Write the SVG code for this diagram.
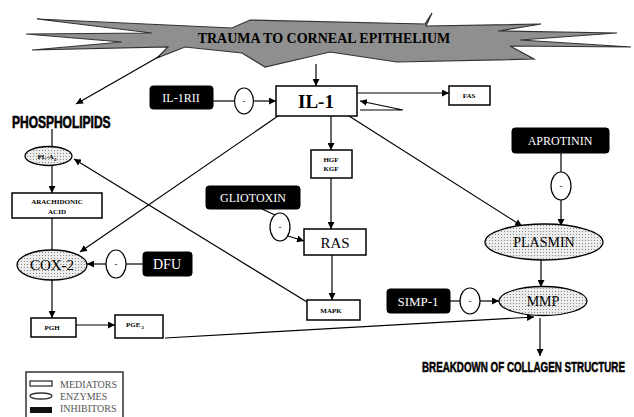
<svg xmlns="http://www.w3.org/2000/svg" width="634" height="417" viewBox="0 0 634 417">
<defs>
<pattern id="dots" width="3" height="3" patternUnits="userSpaceOnUse">
<rect width="3" height="3" fill="#ececec"/>
<rect x="0" y="0" width="1" height="1" fill="#8a8a8a"/>
</pattern>
<marker id="ah" viewBox="0 0 10 10" refX="10" refY="5" markerWidth="7" markerHeight="7" markerUnits="userSpaceOnUse" orient="auto">
<path d="M0,0 L10,5 L0,10 z" fill="#000"/>
</marker>
</defs>
<style>
.med{fill:#fff;stroke:#000;stroke-width:1.5}
.enz{fill:url(#dots);stroke:#000;stroke-width:1.3}
.inh{fill:#000;stroke:#000}
.neg{fill:#fff;stroke:#000;stroke-width:1.2}
.c{fill:none;stroke:#000;stroke-width:1.2}
.ca{fill:none;stroke:#000;stroke-width:1.2;marker-end:url(#ah)}
.t{fill:#000;text-anchor:middle}
.w{fill:#fff;text-anchor:middle}
.s{fill:#000;text-anchor:middle;font-weight:bold;font-size:7px}
.h{font-weight:bold;fill:#000}
.lg{fill:#555;font-size:10px}
</style>
<rect width="634" height="417" fill="#fff"/>

<g id="trauma" font-family="'Liberation Serif', serif">
<polygon points="37,19 232,28 250,20 425,24 432,13 426,26 541,24 498,31 617,33 520,40 631,47 510,46 534,59 397,62 330,52 265,67 242,53 185,47 157,58 168,47 32,50 122,42 26,34 152,33" fill="#8f8f8f" stroke="#333" stroke-width="1.2" stroke-linejoin="miter"/>
<text x="324" y="43" class="t" font-size="14" font-weight="bold" fill="#222">TRAUMA TO CORNEAL EPITHELIUM</text>
</g>

<g id="connectors">
<line x1="316" y1="64" x2="316" y2="86" class="ca"/>
<line x1="160" y1="56" x2="76" y2="104" class="ca"/>
<line x1="213" y1="101" x2="234" y2="101" class="c"/>
<line x1="254" y1="101" x2="276" y2="101" class="ca"/>
<line x1="357" y1="93" x2="449" y2="93" class="ca"/>
<polyline points="360,110 403,110 360,101" class="ca"/>
<line x1="331" y1="116" x2="331" y2="150" class="ca"/>
<line x1="331" y1="178" x2="331" y2="229" class="ca"/>
<line x1="332" y1="255" x2="332" y2="300" class="ca"/>
<line x1="278" y1="116" x2="80" y2="252" class="ca"/>
<line x1="349" y1="116" x2="522" y2="226" class="ca"/>
<line x1="307" y1="302" x2="74" y2="159" class="ca"/>
<line x1="52" y1="129" x2="52" y2="147" class="c"/>
<line x1="52" y1="165" x2="52" y2="193" class="ca"/>
<line x1="52" y1="218" x2="52" y2="252" class="c"/>
<line x1="52" y1="280" x2="52" y2="318" class="ca"/>
<line x1="76" y1="325" x2="115" y2="325" class="ca"/>
<line x1="143" y1="264" x2="126" y2="264" class="c"/>
<line x1="106" y1="264" x2="87" y2="264" class="ca"/>
<line x1="262" y1="209" x2="275" y2="215" class="c"/>
<line x1="288" y1="236" x2="304" y2="241" class="ca"/>
<line x1="561" y1="153" x2="561" y2="172" class="c"/>
<line x1="561" y1="200" x2="561" y2="226" class="ca"/>
<line x1="541" y1="260" x2="541" y2="287" class="ca"/>
<line x1="450" y1="301" x2="460" y2="301" class="c"/>
<line x1="480" y1="301" x2="499" y2="301" class="ca"/>
<line x1="165" y1="338" x2="534" y2="317" class="ca"/>
<line x1="540" y1="318" x2="540" y2="356" class="ca"/>
</g>

<g id="nodes" font-family="'Liberation Serif', serif">
<g id="il1">
<rect x="276" y="86" width="81" height="30" class="med"/>
<text x="316" y="108" class="t" font-size="19" font-weight="bold">IL-1</text>
</g>

<g id="il1rii">
<rect x="150" y="86" width="63" height="23" rx="3" class="inh"/>
<text x="181" y="102" class="w" font-size="12">IL-1RII</text>
</g>
<g id="neg-il1rii">
<ellipse cx="244" cy="101" rx="9.5" ry="13" class="neg"/>
<text x="244" y="104" class="t" font-size="9">-</text>
</g>

<g id="fas">
<rect x="449" y="86" width="41" height="19" class="med"/>
<text x="469" y="98" class="s">FAS</text>
</g>

<g id="phospholipids">
<text transform="translate(12,128) scale(0.75,1)" x="0" y="0" class="h" font-family="'Liberation Sans', sans-serif" font-size="16" stroke="#000" stroke-width="0.6">PHOSPHOLIPIDS</text>
</g>

<g id="pla2">
<ellipse cx="48.5" cy="156" rx="23.5" ry="9.5" class="enz"/>
<text x="47" y="159" class="t" font-size="7" font-weight="bold">PL-A<tspan font-size="5" dy="2">2</tspan></text>
</g>

<g id="arachidonic">
<rect x="12" y="193" width="90" height="25" class="med"/>
<text x="57" y="204" class="s">ARACHIDONIC</text>
<text x="57" y="214" class="s">ACID</text>
</g>

<g id="cox2">
<ellipse cx="52" cy="265" rx="35" ry="15" class="enz"/>
<text x="52" y="270" class="t" font-size="15">COX-2</text>
</g>
<g id="neg-dfu">
<ellipse cx="116" cy="264" rx="10" ry="14" class="neg"/>
<text x="116" y="267" class="t" font-size="9">-</text>
</g>
<g id="dfu">
<rect x="143" y="252" width="49" height="24" rx="3" class="inh"/>
<text x="167" y="269" class="w" font-size="14">DFU</text>
</g>

<g id="pgh">
<rect x="31" y="318" width="45" height="19" class="med"/>
<text x="52" y="330" class="s">PGH</text>
</g>
<g id="pge2">
<rect x="115" y="315" width="48" height="23" class="med"/>
<text x="135" y="327" class="s">PGE<tspan font-size="5" dy="2"> 2</tspan></text>
</g>

<g id="hgf">
<rect x="311" y="150" width="41" height="28" class="med"/>
<text x="331" y="162" class="s" font-size="6">HGF</text>
<text x="331" y="171" class="s" font-size="6">KGF</text>
</g>

<g id="gliotoxin">
<rect x="206" y="186" width="94" height="23" rx="3" class="inh"/>
<text x="253" y="202" class="w" font-size="12">GLIOTOXIN</text>
</g>
<g id="neg-glio">
<ellipse cx="280" cy="227" rx="10" ry="14" class="neg"/>
<text x="280" y="230" class="t" font-size="9">-</text>
</g>

<g id="ras">
<rect x="304" y="229" width="62" height="26" class="med"/>
<text x="335" y="248" class="t" font-size="15">RAS</text>
</g>

<g id="mapk">
<rect x="307" y="300" width="53" height="20" class="med"/>
<text x="331" y="313" class="s">MAPK</text>
</g>

<g id="aprotinin">
<rect x="512" y="128" width="97" height="25" rx="3" class="inh"/>
<text x="560" y="145" class="w" font-size="12">APROTININ</text>
</g>
<g id="neg-aprot">
<ellipse cx="561" cy="186" rx="10" ry="14" class="neg"/>
<text x="561" y="189" class="t" font-size="9">-</text>
</g>

<g id="plasmin">
<ellipse cx="544" cy="242" rx="59" ry="18" class="enz"/>
<text x="544" y="247" class="t" font-size="14">PLASMIN</text>
</g>

<g id="simp1">
<rect x="387" y="289" width="63" height="24" rx="3" class="inh"/>
<text x="418" y="306" class="w" font-size="13">SIMP-1</text>
</g>
<g id="neg-simp">
<ellipse cx="470" cy="301" rx="10" ry="13" class="neg"/>
<text x="470" y="304" class="t" font-size="9">-</text>
</g>

<g id="mmp">
<ellipse cx="543" cy="301" rx="44" ry="14.5" class="enz"/>
<text x="543" y="306" class="t" font-size="14">MMP</text>
</g>

<g id="breakdown">
<text transform="translate(422,372) scale(0.7,1)" x="0" y="0" class="h" font-family="'Liberation Sans', sans-serif" font-size="14" stroke="#000" stroke-width="0.5">BREAKDOWN OF COLLAGEN STRUCTURE</text>
</g>

<g id="legend">
<rect x="26" y="372" width="97" height="50" fill="#fff" stroke="#333" stroke-width="1.5"/>
<rect x="30" y="381" width="22" height="5" fill="#fff" stroke="#333" stroke-width="1.3"/>
<text x="60" y="388" class="lg">MEDIATORS</text>
<ellipse cx="41" cy="396" rx="11" ry="3" fill="#fff" stroke="#333" stroke-width="1.3"/>
<text x="60" y="400" class="lg">ENZYMES</text>
<rect x="30" y="407" width="22" height="6" fill="#111"/>
<text x="60" y="412" class="lg">INHIBITORS</text>
</g>
</g>
</svg>
